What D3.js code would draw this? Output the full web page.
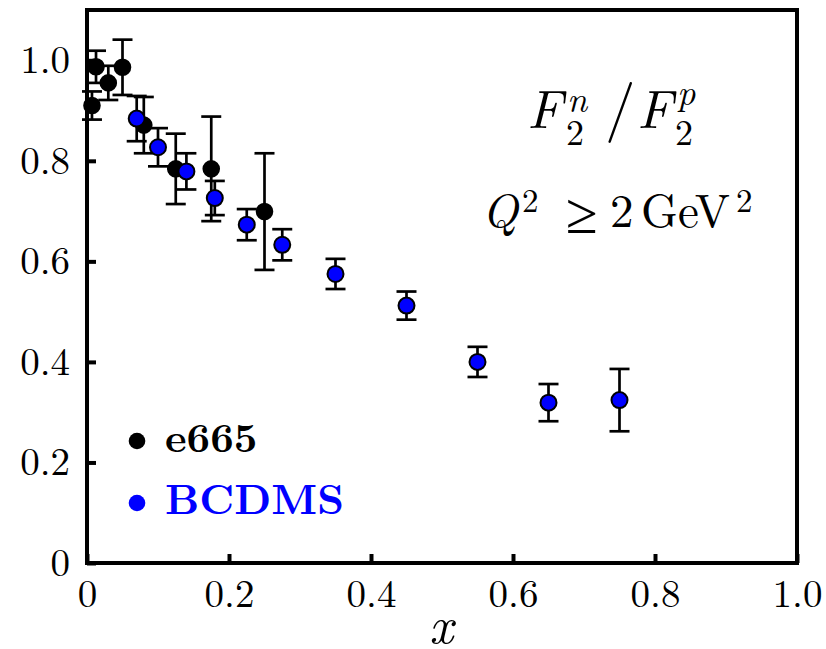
<!DOCTYPE html>
<html>
<head>
<meta charset="utf-8">
<script src="https://cdn.jsdelivr.net/npm/d3@7"></script>
<style>
  html, body { margin: 0; padding: 0; background: #fff; }
  svg { display: block; }
  .lm { font-family: "Latin Modern Roman", "CMU Serif", "Liberation Serif", serif; }
</style>
</head>
<body>
<svg id="chart" width="826" height="649"></svg>
<script>
// E665 ratio F2n/F2p
const e665X   = [0.007, 0.0127, 0.03, 0.05, 0.08, 0.125, 0.175, 0.25];
const e665Y   = [0.910, 0.987, 0.955, 0.986, 0.871, 0.784, 0.784, 0.699];
const e665Err = [0.028, 0.032, 0.034, 0.055, 0.056, 0.070, 0.104, 0.116];

// BCDMS ratio F2n/F2p
const bcdmsX   = [0.07, 0.10, 0.14, 0.18, 0.225, 0.275, 0.35, 0.45, 0.55, 0.65, 0.75];
const bcdmsY   = [0.884, 0.827, 0.779, 0.726, 0.673, 0.633, 0.575, 0.512, 0.400, 0.319, 0.324];
const bcdmsErr = [0.045, 0.038, 0.036, 0.034, 0.031, 0.031, 0.030, 0.028, 0.030, 0.037, 0.062];

const xTicks = [0, 0.2, 0.4, 0.6, 0.8, 1.0];
const xTickLabels = ["0", "0.2", "0.4", "0.6", "0.8", "1.0"];
const yTicks = [0, 0.2, 0.4, 0.6, 0.8, 1.0];
const yTickLabels = ["0", "0.2", "0.4", "0.6", "0.8", "1.0"];

const FONT = '"Latin Modern Roman", "CMU Serif", "Liberation Serif", serif';

const svg = d3.select("#chart");
const plotLeft = 87, plotRight = 797, plotTop = 10, plotBottom = 563;

const x = d3.scaleLinear().domain([0, 1]).range([plotLeft, plotRight]);
const y = d3.scaleLinear().domain([0, 1.1]).range([plotBottom, plotTop]);

// axes with inward ticks
const xAxis = d3.axisBottom(x)
  .tickValues(xTicks)
  .tickFormat((d, i) => xTickLabels[i])
  .tickSizeInner(-9).tickSizeOuter(0).tickPadding(16);
const yAxis = d3.axisLeft(y)
  .tickValues(yTicks)
  .tickFormat((d, i) => yTickLabels[i])
  .tickSizeInner(-9).tickSizeOuter(0).tickPadding(17);

const gx = svg.append("g").attr("transform", `translate(0,${plotBottom})`).call(xAxis);
const gy = svg.append("g").attr("transform", `translate(${plotLeft},0)`).call(yAxis);
[gx, gy].forEach(g => {
  g.attr("font-family", null).attr("font-size", null);
  g.select(".domain").remove();
  g.selectAll(".tick line").attr("stroke", "#000").attr("stroke-width", 4);
  g.selectAll(".tick text")
    .attr("fill", "#000")
    .style("font-size", "39px")
    .style("font-family", FONT);
});

// frame
svg.append("rect")
  .attr("x", plotLeft).attr("y", plotTop)
  .attr("width", plotRight - plotLeft).attr("height", plotBottom - plotTop)
  .attr("fill", "none").attr("stroke", "#000").attr("stroke-width", 4);

// error bars + markers
function drawSeries(xs, ys, errs, fill, stroke, r) {
  const data = xs.map((d, i) => ({ x: d, y: ys[i], e: errs[i] }));
  const g = svg.append("g");
  const cap = 10;
  const eb = g.selectAll("g.eb").data(data).enter().append("g")
    .attr("stroke", "#000").attr("stroke-width", 2.7);
  eb.append("line")
    .attr("x1", d => x(d.x)).attr("x2", d => x(d.x))
    .attr("y1", d => y(d.y - d.e)).attr("y2", d => y(d.y + d.e));
  eb.append("line")
    .attr("x1", d => x(d.x) - cap).attr("x2", d => x(d.x) + cap)
    .attr("y1", d => y(d.y + d.e)).attr("y2", d => y(d.y + d.e));
  eb.append("line")
    .attr("x1", d => x(d.x) - cap).attr("x2", d => x(d.x) + cap)
    .attr("y1", d => y(d.y - d.e)).attr("y2", d => y(d.y - d.e));
  g.selectAll("circle").data(data).enter().append("circle")
    .attr("cx", d => x(d.x)).attr("cy", d => y(d.y))
    .attr("r", r)
    .attr("fill", fill)
    .attr("stroke", stroke).attr("stroke-width", 2);
}
drawSeries(e665X, e665Y, e665Err, "#000", "#000", 7.8);
drawSeries(bcdmsX, bcdmsY, bcdmsErr, "#0000ff", "#000", 8);

// legend
const legend = svg.append("g").attr("class", "lm");
legend.append("circle").attr("cx", 137).attr("cy", 441).attr("r", 8.3).attr("fill", "#000");
legend.append("text").attr("x", 165).attr("y", 452)
  .attr("font-size", 41).attr("font-weight", "bold").attr("fill", "#000")
  .text("e665");
legend.append("circle").attr("cx", 137).attr("cy", 503).attr("r", 8.3).attr("fill", "#0000ff");
legend.append("text").attr("x", 165).attr("y", 514)
  .attr("font-size", 42).attr("font-weight", "bold").attr("fill", "#0000ff")
  .text("BCDMS");

// annotation: F2n / F2p
const ann = svg.append("g").attr("class", "lm").attr("fill", "#000");
function t(xp, yp, size, str, italic) {
  ann.append("text").attr("x", xp).attr("y", yp)
    .attr("font-size", size)
    .attr("font-style", italic ? "italic" : "normal")
    .text(str);
}
t(527, 128, 54, "F", true);
t(567, 112, 36, "n", true);
t(566, 145, 36, "2", false);
t(605, 128, 61, "/", false);
t(637, 128, 54, "F", true);
t(677, 105, 36, "p", true);
t(675, 145, 36, "2", false);

// annotation: Q^2 >= 2 GeV^2
t(482, 227, 47, "Q", true);
t(522, 212, 33, "2", false);
t(566, 233, 58, "≥", false);
t(610, 227, 47, "2", false);
t(641, 227, 47, "GeV", false);
t(736, 212, 33, "2", false);

// x axis title
svg.append("text").attr("class", "lm")
  .attr("x", 441).attr("y", 643)
  .attr("text-anchor", "middle")
  .attr("font-size", 52).attr("font-style", "italic")
  .text("x");
</script>
</body>
</html>
